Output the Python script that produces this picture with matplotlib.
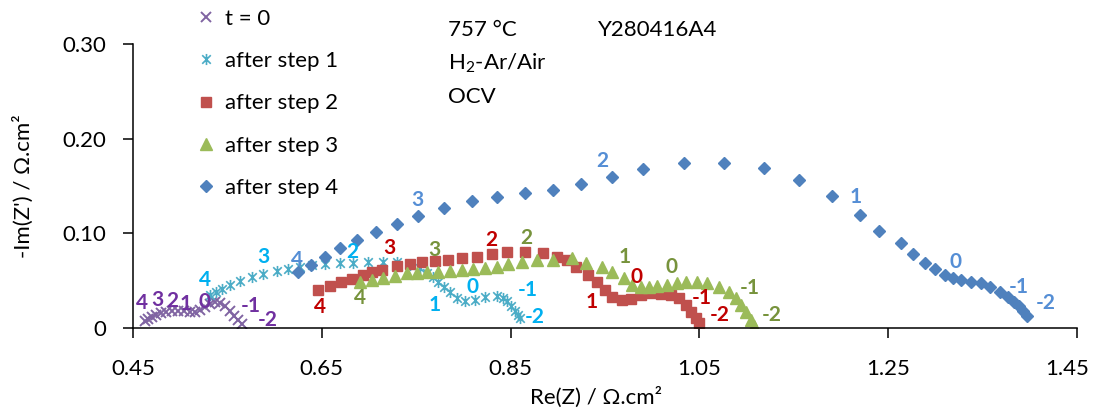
import matplotlib
matplotlib.use("Agg")
import matplotlib.pyplot as plt
import matplotlib.transforms as mtrans
from matplotlib.path import Path

plt.rcParams['font.family'] = ['Lato', 'DejaVu Sans']
plt.rcParams['mathtext.fontset'] = 'custom'
plt.rcParams['mathtext.rm'] = 'Lato'

# data (Re(Z), -Im(Z)) in ohm.cm2
t0_re = [0.4627, 0.4659, 0.4701, 0.4743, 0.4796, 0.4849, 0.4913, 0.4976, 0.5039, 0.5103, 0.5156,
         0.5209, 0.5262, 0.5315, 0.5368, 0.5421, 0.5474, 0.5526, 0.5569, 0.5611, 0.5653]
t0_im = [0.0074, 0.0095, 0.0116, 0.0137, 0.0158, 0.0169, 0.0180, 0.0180, 0.0180, 0.0169, 0.0169,
         0.0190, 0.0222, 0.0253, 0.0275, 0.0264, 0.0232, 0.0180, 0.0127, 0.0084, 0.0042]

s1_re = [0.5315, 0.5378, 0.5442, 0.5526, 0.5632, 0.5759, 0.5876, 0.6024, 0.6140, 0.6267, 0.6394,
         0.6532, 0.6690, 0.6828, 0.6987, 0.7146, 0.7294, 0.7431, 0.7537, 0.7611, 0.7675, 0.7728,
         0.7791, 0.7854, 0.7929, 0.8013, 0.8119, 0.8225, 0.8352, 0.8415, 0.8458, 0.8500, 0.8542,
         0.8574, 0.8595]
s1_im = [0.0348, 0.0380, 0.0412, 0.0454, 0.0496, 0.0539, 0.0570, 0.0602, 0.0623, 0.0644, 0.0665,
         0.0676, 0.0686, 0.0686, 0.0697, 0.0697, 0.0697, 0.0665, 0.0634, 0.0581, 0.0539, 0.0486,
         0.0433, 0.0380, 0.0317, 0.0285, 0.0296, 0.0327, 0.0338, 0.0317, 0.0285, 0.0232, 0.0180,
         0.0137, 0.0106]

s2_re = [0.6458, 0.6585, 0.6701, 0.6817, 0.6934, 0.7029, 0.7135, 0.7294, 0.7431, 0.7558, 0.7696,
         0.7833, 0.7981, 0.8140, 0.8299, 0.8458, 0.8648, 0.8839, 0.8987, 0.9093, 0.9198, 0.9315,
         0.9410, 0.9495, 0.9579, 0.9675, 0.9780, 0.9886, 0.9992, 1.0098, 1.0204, 1.0288, 1.0362,
         1.0415, 1.0468, 1.0500]
s2_im = [0.0401, 0.0444, 0.0486, 0.0517, 0.0560, 0.0591, 0.0612, 0.0655, 0.0676, 0.0697, 0.0708,
         0.0718, 0.0739, 0.0750, 0.0781, 0.0803, 0.0803, 0.0792, 0.0750, 0.0718, 0.0644, 0.0560,
         0.0486, 0.0401, 0.0327, 0.0296, 0.0306, 0.0348, 0.0370, 0.0359, 0.0348, 0.0317, 0.0243,
         0.0169, 0.0106, 0.0053]

s3_re = [0.6902, 0.7029, 0.7146, 0.7272, 0.7399, 0.7505, 0.7611, 0.7728, 0.7854, 0.7981, 0.8098,
         0.8225, 0.8352, 0.8468, 0.8616, 0.8775, 0.8944, 0.9146, 0.9304, 0.9463, 0.9579, 0.9706,
         0.9791, 0.9886, 0.9971, 1.0056, 1.0162, 1.0267, 1.0362, 1.0479, 1.0585, 1.0712, 1.0817,
         1.0891, 1.0944, 1.0997, 1.1050, 1.1082]
s3_im = [0.0486, 0.0507, 0.0528, 0.0549, 0.0581, 0.0581, 0.0591, 0.0591, 0.0602, 0.0612, 0.0623,
         0.0634, 0.0644, 0.0676, 0.0697, 0.0718, 0.0718, 0.0739, 0.0686, 0.0644, 0.0591, 0.0528,
         0.0454, 0.0433, 0.0433, 0.0444, 0.0454, 0.0475, 0.0486, 0.0486, 0.0475, 0.0433, 0.0380,
         0.0317, 0.0243, 0.0169, 0.0084, 0.0021]

s4_re = [0.6246, 0.6384, 0.6532, 0.6690, 0.6870, 0.7071, 0.7294, 0.7516, 0.7791, 0.8087, 0.8352,
         0.8648, 0.8944, 0.9241, 0.9569, 0.9907, 1.0341, 1.0765, 1.1188, 1.1558, 1.1907, 1.2204,
         1.2405, 1.2638, 1.2765, 1.2892, 1.2997, 1.3103, 1.3188, 1.3272, 1.3378, 1.3484, 1.3579,
         1.3685, 1.3770, 1.3833, 1.3886, 1.3929, 1.3971]
s4_im = [0.0591, 0.0665, 0.0750, 0.0845, 0.0929, 0.1014, 0.1098, 0.1183, 0.1267, 0.1341, 0.1383,
         0.1426, 0.1457, 0.1521, 0.1595, 0.1679, 0.1742, 0.1742, 0.1690, 0.1563, 0.1394, 0.1193,
         0.1024, 0.0898, 0.0781, 0.0686, 0.0623, 0.0560, 0.0528, 0.0507, 0.0486, 0.0475, 0.0433,
         0.0380, 0.0327, 0.0275, 0.0232, 0.0180, 0.0127]

labels = ["t = 0", "after step 1", "after step 2", "after step 3", "after step 4"]

# frequency decade markers (log f) for each curve
decades = ["4", "3", "2", "1", "0", "-1", "-2"]
t0_dec_re = [0.4595, 0.4754, 0.4913, 0.5061, 0.5262, 0.5749, 0.5930]
t0_dec_im = [0.0264, 0.0296, 0.0285, 0.0253, 0.0270, 0.0232, 0.0085]
s1_dec_re = [0.5262, 0.5876, 0.6828, 0.7696, 0.8098, 0.8680, 0.8754]
s1_dec_im = [0.0505, 0.0750, 0.0803, 0.0243, 0.0433, 0.0401, 0.0116]
s2_dec_re = [0.6479, 0.7220, 0.8299, 0.9357, 0.9833, 1.0521, 1.0712]
s2_dec_im = [0.0222, 0.0845, 0.0929, 0.0275, 0.0539, 0.0317, 0.0137]
s3_dec_re = [0.6902, 0.7696, 0.8669, 0.9706, 1.0204, 1.1029, 1.1262]
s3_dec_im = [0.0317, 0.0824, 0.0950, 0.0750, 0.0644, 0.0422, 0.0137]
s4_dec_re = [0.6235, 0.7516, 0.9474, 1.2151, 1.3209, 1.3886, 1.4172]
s4_dec_im = [0.0718, 0.1352, 0.1763, 0.1383, 0.0697, 0.0433, 0.0264]

# excel style asterisk: x plus vertical bar
asterisk = Path([(-1, -1), (1, 1), (-1, 1), (1, -1), (0, -1.3), (0, 1.3)],
                [Path.MOVETO, Path.LINETO, Path.MOVETO, Path.LINETO, Path.MOVETO, Path.LINETO])

FS = 16

fig = plt.figure(figsize=(10.95, 4.13), dpi=100)
ax = fig.add_axes([133 / 1095, 1 - 328 / 413, (1077 - 133) / 1095, (328 - 44) / 413])

ax.plot(t0_re, t0_im, ls="none", marker="x", ms=7.5, mew=1.4, color="#8064A2", label=labels[0])
ax.plot(s1_re, s1_im, ls="none", marker=asterisk, ms=8, mew=1.2, mfc="none", color="#4BACC6", label=labels[1])
ax.plot(s2_re, s2_im, ls="none", marker="s", ms=7.5, color="#C0504D", label=labels[2])
ax.plot(s3_re, s3_im, ls="none", marker="^", ms=8.5, color="#9BBB59", label=labels[3])
ax.plot(s4_re, s4_im, ls="none", marker="D", ms=6.5, color="#4F81BD", label=labels[4])

dec_sets = [
    (t0_dec_re, t0_dec_im, "#7030A0"),
    (s1_dec_re, s1_dec_im, "#00B0F0"),
    (s2_dec_re, s2_dec_im, "#C00000"),
    (s3_dec_re, s3_dec_im, "#77933C"),
    (s4_dec_re, s4_dec_im, "#558ED5"),
]
for xs, ys, c in dec_sets:
    for d, x, y in zip(decades, xs, ys):
        ax.text(x, y, d, color=c, fontsize=15, fontweight="bold", ha="center", va="center")

ax.set_xlim(0.45, 1.45)
ax.set_ylim(0, 0.30)
ax.set_xticks([0.45, 0.65, 0.85, 1.05, 1.25, 1.45])
ax.set_xticklabels(["0.45", "0.65", "0.85", "1.05", "1.25", "1.45"])
ax.set_yticks([0, 0.10, 0.20, 0.30])
ax.set_yticklabels(["0", "0.10", "0.20", "0.30"])
ax.tick_params(axis="both", labelsize=FS, direction="out", width=1.1, length=7, color="black")
ax.tick_params(axis="x", pad=15)
ax.tick_params(axis="y", pad=12)
for s in ["top", "right"]:
    ax.spines[s].set_visible(False)
for s in ["left", "bottom"]:
    ax.spines[s].set_linewidth(1.1)

# keep the last x label inside the figure
last = ax.get_xticklabels()[-1]
last.set_transform(last.get_transform() + mtrans.ScaledTranslation(-7 / 72, 0, fig.dpi_scale_trans))

ax.set_xlabel("Re(Z) / Ω.cm²", fontsize=FS)
ax.xaxis.set_label_coords(0.49, -0.205)
ax.set_ylabel("-Im(Z') / Ω.cm²", fontsize=FS)
ax.yaxis.set_label_coords(-0.105, 0.5)

fig.legend(loc="upper left", bbox_to_anchor=(196 / 1095, 1 - 9 / 413), frameon=False,
           fontsize=FS, handlelength=0.9, handletextpad=0.4, labelspacing=1.0,
           borderpad=0, borderaxespad=0)

fig.text(448 / 1095, 1 - 30 / 413, "757 °C", fontsize=FS, va="center")
fig.text(598 / 1095, 1 - 30 / 413, "Y280416A4", fontsize=FS, va="center")
fig.text(448 / 1095, 1 - 63 / 413, "H$_\\mathregular{2}$-Ar/Air", fontsize=FS, va="center")
fig.text(448 / 1095, 1 - 97 / 413, "OCV", fontsize=FS, va="center")

fig.savefig("out.png", dpi=100)
